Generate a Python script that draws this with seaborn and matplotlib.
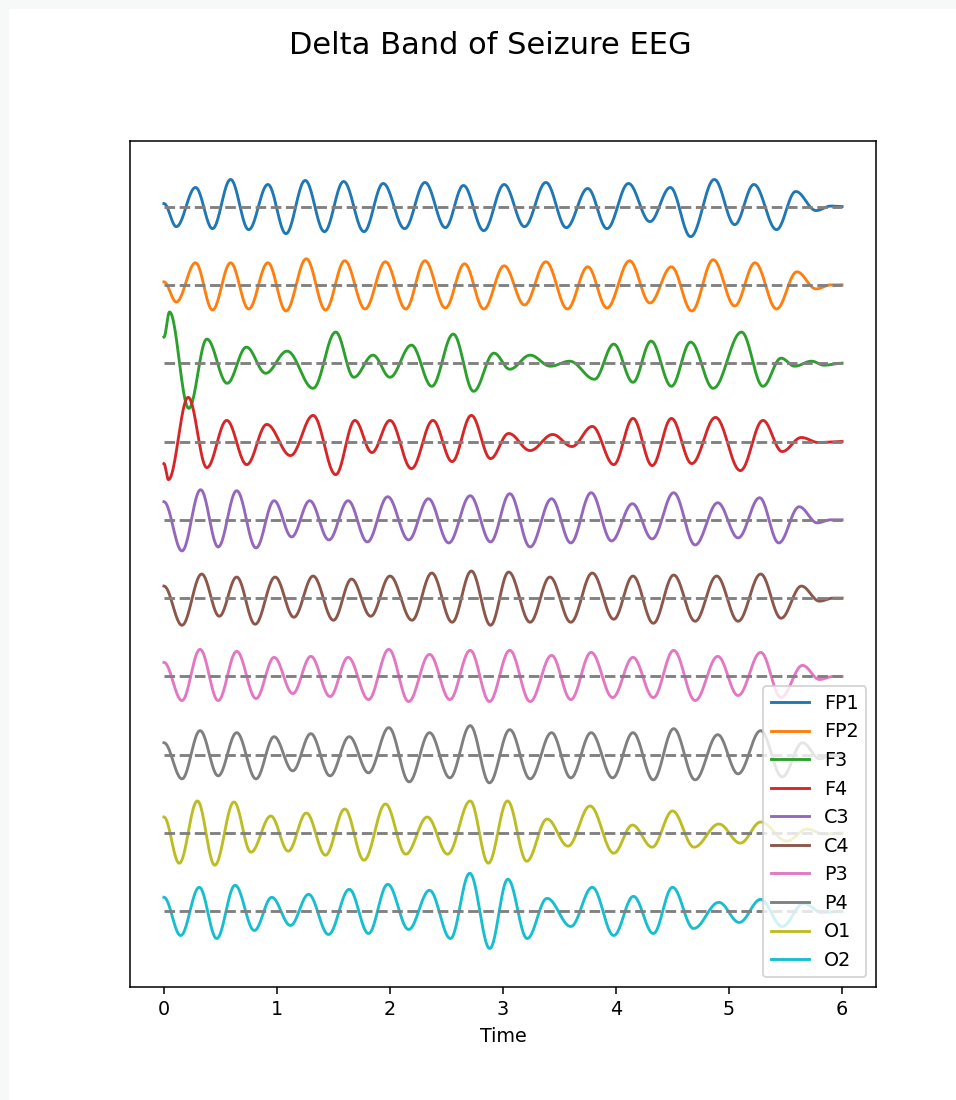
import numpy as np
import matplotlib
matplotlib.use("Agg")
import matplotlib.pyplot as plt
from matplotlib.patches import Rectangle
import seaborn as sns

channels = ["FP1", "FP2", "F3", "F4", "C3", "C4", "P3", "P4", "O1", "O2"]

# Turning points of each delta-band trace: (time in s, amplitude)
fp1 = [(0.00, 3), (0.11, -20), (0.28, 19), (0.43, -22), (0.59, 27), (0.75, -23),
       (0.92, 22), (1.08, -27), (1.25, 26), (1.42, -25), (1.59, 25), (1.77, -25),
       (1.94, 23), (2.13, -22), (2.31, 24), (2.49, -21), (2.65, 21), (2.83, -24),
       (3.01, 22), (3.19, -20), (3.38, 24), (3.56, -21), (3.75, 18), (3.92, -22),
       (4.11, 23), (4.30, -15), (4.48, 19), (4.66, -30), (4.87, 27), (5.05, -18),
       (5.22, 22), (5.42, -23), (5.59, 15), (5.77, -4), (5.90, 0.5), (6.00, 0)]
fp2 = [(0.00, 3), (0.11, -17), (0.28, 22), (0.43, -25), (0.59, 22), (0.75, -24),
       (0.92, 22), (1.08, -26), (1.26, 26), (1.43, -25), (1.60, 24), (1.78, -24),
       (1.96, 23), (2.14, -24), (2.31, 24), (2.49, -23), (2.66, 21), (2.83, -24),
       (3.01, 19), (3.19, -20), (3.38, 23), (3.57, -24), (3.75, 18), (3.92, -23),
       (4.12, 24), (4.30, -18), (4.49, 18), (4.67, -26), (4.86, 25), (5.05, -21),
       (5.23, 22), (5.42, -24), (5.60, 13), (5.77, -4), (5.90, 0), (6.00, 0)]
f3 = [(0.00, 26), (0.05, 51), (0.22, -45), (0.38, 24), (0.56, -20), (0.73, 16),
      (0.90, -10), (1.09, 12), (1.32, -25), (1.52, 31), (1.68, -14), (1.85, 8),
      (2.00, -14), (2.19, 18), (2.37, -23), (2.56, 29), (2.74, -28), (2.92, 10),
      (3.06, -6), (3.24, 8), (3.42, -3), (3.59, 2), (3.81, -16), (3.98, 19),
      (4.15, -19), (4.31, 22), (4.49, -23), (4.66, 21), (4.86, -25), (5.11, 31),
      (5.30, -23), (5.46, 5), (5.58, -3), (5.73, 2), (5.84, -2), (6.00, 0)]
f4 = [(0.00, -22), (0.04, -38), (0.215, 44), (0.38, -26), (0.556, 21), (0.733, -23),
      (0.91, 17), (1.12, -14), (1.32, 26), (1.52, -33), (1.69, 21), (1.84, -11),
      (2.00, 21), (2.19, -27), (2.38, 21), (2.55, -20), (2.72, 26), (2.89, -17),
      (3.05, 8), (3.24, -9), (3.44, 7), (3.61, -5), (3.79, 15), (3.98, -23),
      (4.15, 23), (4.32, -24), (4.49, 23), (4.67, -22), (4.88, 24), (5.10, -29),
      (5.30, 21), (5.47, -10), (5.64, 4), (5.79, -1), (6.00, 0)]
c3 = [(0.00, 18), (0.16, -31), (0.325, 30), (0.48, -27), (0.644, 29), (0.815, -28),
      (0.975, 19), (1.13, -17), (1.29, 19), (1.46, -20), (1.63, 19), (1.80, -22),
      (1.98, 23), (2.165, -20), (2.34, 21), (2.52, -23), (2.71, 24), (2.89, -22),
      (3.06, 26), (3.24, -27), (3.43, 21), (3.60, -23), (3.78, 27), (3.96, -21),
      (4.145, 16), (4.32, -19), (4.51, 27), (4.70, -25), (4.90, 17), (5.08, -18),
      (5.27, 22), (5.44, -23), (5.62, 13), (5.78, -3), (5.90, 0), (6.00, 0)]
c4 = [(0.00, 12), (0.16, -27), (0.334, 24), (0.49, -18), (0.644, 21), (0.807, -26),
      (0.984, 21), (1.15, -19), (1.32, 22), (1.50, -22), (1.66, 19), (1.83, -18),
      (2.00, 22), (2.195, -22), (2.37, 25), (2.55, -24), (2.72, 27), (2.89, -27),
      (3.05, 26), (3.24, -24), (3.415, 21), (3.60, -24), (3.79, 25), (3.98, -21),
      (4.15, 22), (4.33, -25), (4.51, 23), (4.70, -23), (4.89, 22), (5.08, -23),
      (5.28, 24), (5.46, -20), (5.64, 12), (5.80, -3), (5.92, 0), (6.00, 0)]
p3 = [(0.00, 14), (0.16, -24), (0.32, 27), (0.48, -24), (0.644, 25), (0.815, -22),
      (0.975, 19), (1.14, -17), (1.30, 20), (1.47, -20), (1.63, 19), (1.81, -23),
      (1.99, 27), (2.165, -25), (2.35, 22), (2.53, -23), (2.71, 26), (2.88, -25),
      (3.06, 26), (3.24, -25), (3.43, 21), (3.60, -23), (3.78, 24), (3.97, -21),
      (4.15, 19), (4.33, -21), (4.51, 26), (4.70, -24), (4.90, 20), (5.08, -19),
      (5.28, 24), (5.46, -21), (5.65, 11), (5.80, -3), (5.92, 0), (6.00, 0)]
p4 = [(0.00, 12), (0.16, -24), (0.32, 24), (0.48, -21), (0.644, 22), (0.815, -24),
      (0.975, 18), (1.14, -16), (1.30, 21), (1.47, -21), (1.64, 18), (1.81, -18),
      (1.99, 27), (2.17, -27), (2.35, 22), (2.53, -23), (2.71, 29), (2.88, -28),
      (3.06, 25), (3.24, -24), (3.43, 22), (3.60, -23), (3.78, 22), (3.97, -23),
      (4.15, 22), (4.33, -25), (4.51, 26), (4.70, -25), (4.90, 20), (5.08, -19),
      (5.28, 24), (5.47, -22), (5.65, 12), (5.80, -4), (5.92, 0), (6.00, 0)]
o1 = [(0.00, 16), (0.136, -30), (0.296, 32), (0.45, -32), (0.62, 31), (0.77, -19),
      (0.946, 17), (1.10, -18), (1.26, 20), (1.43, -22), (1.60, 24), (1.77, -27),
      (1.96, 29), (2.14, -21), (2.33, 16), (2.51, -21), (2.71, 32), (2.87, -30),
      (3.04, 32), (3.21, -28), (3.39, 14), (3.575, -13), (3.77, 27), (3.98, -20),
      (4.145, 8), (4.32, -14), (4.50, 22), (4.69, -14), (4.91, 9), (5.10, -10),
      (5.28, 11), (5.51, -8), (5.69, 4), (5.84, -1), (6.00, 0)]
o2 = [(0.00, 14), (0.148, -24), (0.313, 24), (0.467, -27), (0.63, 26), (0.80, -19),
      (0.954, 14), (1.12, -14), (1.28, 17), (1.456, -23), (1.64, 22), (1.81, -22),
      (1.98, 27), (2.165, -18), (2.35, 21), (2.535, -27), (2.706, 38), (2.883, -37),
      (3.043, 32), (3.214, -27), (3.39, 13), (3.60, -15), (3.79, 24), (3.98, -24),
      (4.154, 15), (4.33, -22), (4.50, 24), (4.686, -17), (4.91, 9), (5.09, -11),
      (5.28, 12), (5.47, -15), (5.66, 8), (5.82, -1), (6.00, 0)]

traces = [fp1, fp2, f3, f4, c3, c4, p3, p4, o1, o2]
channel_gap = 78   # vertical spacing between stacked channels
t_end = 6


def trace_curve(points, n=24):
    """Join successive turning points with half-cosine swings."""
    ts, vs = [], []
    for (t0, v0), (t1, v1) in zip(points[:-1], points[1:]):
        s = np.linspace(0, 1, n, endpoint=False)
        ts.append(t0 + (t1 - t0) * s)
        vs.append(v0 + (v1 - v0) * (1 - np.cos(np.pi * s)) / 2)
    ts.append([points[-1][0]])
    vs.append([points[-1][1]])
    return np.concatenate(ts), np.concatenate(vs)


W, H = 956, 1100
dpi = 137.5
fig = plt.figure(figsize=(W / dpi, H / dpi), dpi=dpi, facecolor="#f7f9f9")
fig.patches.append(Rectangle((9 / W, 0), 1, 1 - 9 / H, transform=fig.transFigure,
                             facecolor="white", edgecolor="none", zorder=-1))
ax = fig.add_axes([130 / W, 1 - 987 / H, (876 - 130) / W, (987 - 141) / H])

palette = sns.color_palette("tab10", len(channels))
n_ch = len(channels)
for i, (name, pts) in enumerate(zip(channels, traces)):
    offset = (n_ch - 1 - i) * channel_gap
    t, v = trace_curve(pts)
    sns.lineplot(x=t, y=v + offset, color=palette[i], label=name, ax=ax,
                 sort=False, estimator=None, legend=False)
    ax.plot([0, t_end], [offset, offset], "--", color="gray")

ax.set_yticks([])
ax.set_ylabel("")
ax.set_xlabel("Time")
ax.legend(loc="lower right")
fig.suptitle("Delta Band of Seizure EEG", fontsize=16, x=490 / W, y=1 - 31 / H)

fig.savefig("out.png", dpi=dpi)
